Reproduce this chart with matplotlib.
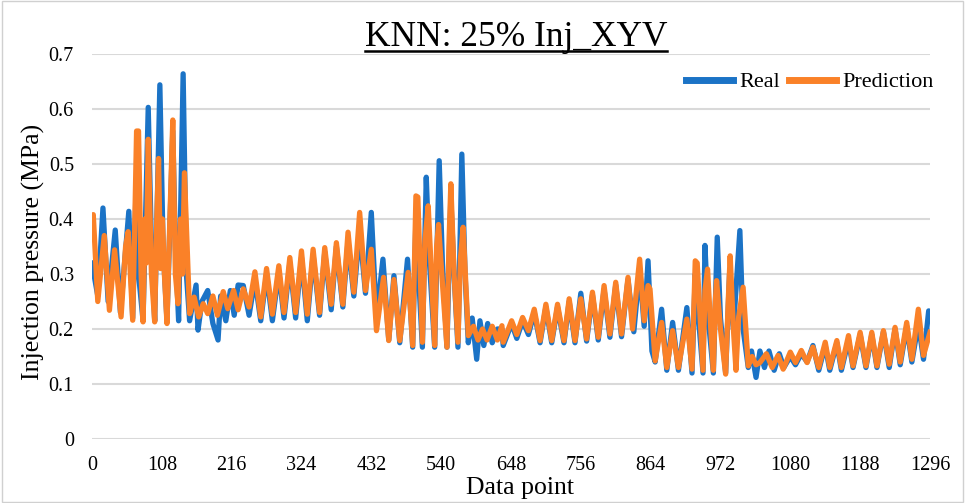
import numpy as np
import matplotlib
matplotlib.use("Agg")
import matplotlib.pyplot as plt
from matplotlib.lines import Line2D
from matplotlib.patches import Rectangle

plt.rcParams['font.family'] = ['Liberation Serif', 'DejaVu Serif']

# zigzag vertices (data point index, pressure MPa)
real_x = [0, 9, 17, 25, 36, 44, 57, 63, 68, 72, 79, 87, 92, 97, 105, 110, 116, 125, 129, 134,
          141, 146, 151, 161, 164, 170, 179, 187, 195, 199, 207, 214, 220, 226, 234, 243, 252, 261, 270, 279,
          289, 297, 306, 315, 324, 333, 342, 352, 360, 370, 378, 388, 396, 405, 414, 423, 432, 440, 450, 459,
          467, 476, 488, 496, 501, 505, 511, 517, 522, 530, 537, 542, 549, 555, 560, 566, 572, 577, 582, 588,
          595, 600, 606, 612, 619, 627, 634, 636, 649, 657, 666, 675, 684, 693, 702, 711, 720, 730, 738, 747,
          756, 765, 774, 783, 792, 801, 810, 819, 829, 838, 847, 854, 860, 866, 871, 881, 889, 898, 907, 920,
          928, 933, 938, 945, 948, 953, 961, 967, 972, 980, 986, 992, 1002, 1007, 1015, 1020, 1027, 1033, 1040, 1047,
          1055, 1063, 1070, 1080, 1088, 1097, 1106, 1115, 1124, 1134, 1141, 1152, 1159, 1170, 1177, 1188, 1197, 1206, 1214, 1224,
          1233, 1242, 1250, 1260, 1268, 1278, 1286, 1294, 1296]
real_y = [0.32, 0.26, 0.42, 0.25, 0.38, 0.23, 0.414, 0.22, 0.45, 0.30, 0.215, 0.603, 0.35, 0.215, 0.644, 0.35, 0.215, 0.56, 0.35, 0.215,
          0.664, 0.30, 0.215, 0.28, 0.198, 0.25, 0.27, 0.21, 0.18, 0.26, 0.215, 0.27, 0.225, 0.28, 0.279, 0.225, 0.29, 0.215, 0.30, 0.215,
          0.305, 0.22, 0.32, 0.22, 0.33, 0.215, 0.335, 0.225, 0.34, 0.235, 0.35, 0.24, 0.36, 0.26, 0.38, 0.265, 0.412, 0.22, 0.327, 0.18,
          0.297, 0.175, 0.327, 0.167, 0.40, 0.30, 0.167, 0.476, 0.32, 0.167, 0.506, 0.32, 0.167, 0.44, 0.30, 0.167, 0.518, 0.30, 0.175, 0.22,
          0.145, 0.215, 0.17, 0.21, 0.175, 0.20, 0.20, 0.17, 0.21, 0.183, 0.215, 0.19, 0.23, 0.175, 0.24, 0.175, 0.24, 0.175, 0.25, 0.175,
          0.265, 0.178, 0.262, 0.18, 0.272, 0.185, 0.28, 0.186, 0.29, 0.195, 0.31, 0.205, 0.324, 0.16, 0.14, 0.236, 0.125, 0.212, 0.125, 0.239,
          0.12, 0.30, 0.22, 0.12, 0.352, 0.22, 0.12, 0.367, 0.22, 0.12, 0.30, 0.20, 0.379, 0.20, 0.13, 0.16, 0.112, 0.16, 0.13, 0.16,
          0.125, 0.155, 0.13, 0.15, 0.135, 0.155, 0.14, 0.17, 0.125, 0.17, 0.125, 0.175, 0.125, 0.18, 0.13, 0.19, 0.13, 0.19, 0.13, 0.195,
          0.13, 0.20, 0.135, 0.205, 0.14, 0.21, 0.145, 0.233, 0.23]

pred_x = [0, 2, 9, 19, 27, 35, 45, 52, 56, 63, 66, 69, 72, 76, 79, 82, 84, 87, 92, 97,
          100, 103, 106, 109, 112, 116, 120, 125, 129, 133, 137, 140, 143, 151, 158, 165, 172, 179, 187, 194,
          203, 210, 219, 226, 234, 243, 252, 261, 270, 279, 289, 297, 306, 315, 324, 333, 342, 352, 360, 370,
          378, 388, 396, 405, 414, 423, 432, 440, 451, 459, 467, 476, 489, 496, 501, 504, 511, 515, 520, 525,
          530, 533, 536, 541, 549, 552, 555, 560, 566, 570, 574, 582, 590, 597, 604, 611, 619, 627, 634, 636,
          649, 657, 666, 675, 684, 693, 702, 711, 720, 730, 738, 747, 756, 765, 774, 783, 792, 801, 810, 819,
          829, 836, 847, 854, 860, 863, 871, 881, 889, 898, 907, 920, 928, 933, 936, 945, 948, 952, 957, 961,
          964, 966, 972, 980, 984, 987, 992, 996, 1000, 1007, 1015, 1021, 1027, 1033, 1043, 1052, 1061, 1069, 1080, 1088,
          1097, 1106, 1115, 1124, 1134, 1141, 1152, 1159, 1170, 1177, 1188, 1197, 1206, 1214, 1224, 1233, 1242, 1250, 1260, 1268,
          1278, 1286, 1296]
pred_y = [0.40, 0.408, 0.25, 0.37, 0.234, 0.344, 0.222, 0.35, 0.377, 0.216, 0.38, 0.56, 0.56, 0.30, 0.213, 0.40, 0.32, 0.545, 0.30, 0.213,
          0.39, 0.51, 0.31, 0.40, 0.30, 0.21, 0.38, 0.58, 0.30, 0.246, 0.40, 0.30, 0.484, 0.228, 0.258, 0.222, 0.246, 0.228, 0.26, 0.225,
          0.268, 0.237, 0.27, 0.235, 0.273, 0.24, 0.304, 0.222, 0.31, 0.227, 0.315, 0.23, 0.33, 0.23, 0.342, 0.227, 0.345, 0.23, 0.348, 0.245,
          0.357, 0.245, 0.376, 0.267, 0.412, 0.27, 0.345, 0.197, 0.294, 0.179, 0.29, 0.179, 0.303, 0.17, 0.442, 0.44, 0.176, 0.36, 0.424, 0.30,
          0.17, 0.35, 0.39, 0.30, 0.167, 0.35, 0.464, 0.30, 0.176, 0.33, 0.385, 0.188, 0.205, 0.18, 0.20, 0.18, 0.205, 0.18, 0.206, 0.176,
          0.215, 0.19, 0.221, 0.197, 0.236, 0.179, 0.245, 0.179, 0.245, 0.179, 0.255, 0.179, 0.255, 0.182, 0.267, 0.185, 0.279, 0.191, 0.285, 0.191,
          0.294, 0.20, 0.327, 0.215, 0.279, 0.273, 0.142, 0.212, 0.13, 0.197, 0.13, 0.218, 0.127, 0.324, 0.32, 0.125, 0.27, 0.309, 0.20, 0.125,
          0.25, 0.288, 0.20, 0.118, 0.25, 0.333, 0.20, 0.125, 0.22, 0.276, 0.133, 0.15, 0.135, 0.139, 0.155, 0.13, 0.152, 0.127, 0.158, 0.139,
          0.161, 0.139, 0.167, 0.13, 0.176, 0.13, 0.179, 0.13, 0.188, 0.133, 0.194, 0.133, 0.194, 0.133, 0.197, 0.136, 0.203, 0.14, 0.212, 0.145,
          0.236, 0.152, 0.194]

x_ticks = list(range(0, 1297, 108))
y_ticks = [0, 0.1, 0.2, 0.3, 0.4, 0.5, 0.6, 0.7]
y_tick_labels = ['0', '0.1', '0.2', '0.3', '0.4', '0.5', '0.6', '0.7']

blue = '#1B73C6'
orange = '#FA8128'

fig = plt.figure(figsize=(9.65, 5.03), dpi=100)
ax = fig.add_axes([0.0953, 0.1272, 0.8684, 0.7654])

ax.plot(real_x, real_y, color=blue, lw=3.8, solid_joinstyle='round', label='Real')
ax.plot(pred_x, pred_y, color=orange, lw=3.8, solid_joinstyle='round', label='Prediction')

ax.set_xlim(0, 1296)
ax.set_ylim(0, 0.7)
ax.set_xticks(x_ticks)
ax.set_yticks(y_ticks)
ax.set_yticklabels(y_tick_labels)
ax.tick_params(length=0, labelsize=14.5)
ax.tick_params(axis='x', pad=12)
ax.tick_params(axis='y', pad=13)
ax.grid(axis='y', color='#d9d9d9', lw=1.5)
ax.set_axisbelow(True)
for s in ax.spines.values():
    s.set_visible(False)

fig.text(520 / 965, 1 - 488 / 503, 'Data point', fontsize=18.5, ha='center', va='center')
fig.text(33 / 965, 1 - 252 / 503, 'Injection pressure (MPa)', fontsize=18.5,
         ha='center', va='center', rotation=90)

leg = ax.legend(loc='center right', bbox_to_anchor=(934 / 965, 1 - 82 / 503),
                bbox_transform=fig.transFigure, ncol=2, frameon=False, borderpad=0,
                borderaxespad=0, fontsize=16, handlelength=2.1, columnspacing=0.4,
                handletextpad=0.3)
for h in leg.get_lines():
    h.set_linewidth(5)

title = fig.text(516 / 965, 1 - 38 / 503, 'KNN: 25% Inj_XYV', fontsize=25.5, ha='center', va='center')

# underline the title
fig.canvas.draw()
bb = title.get_window_extent(fig.canvas.get_renderer()).transformed(fig.transFigure.inverted())
fig.add_artist(Line2D([bb.x0, bb.x1], [bb.y0 + 0.006, bb.y0 + 0.006], color='black', lw=1.8,
                      transform=fig.transFigure))

# chart area border
fig.add_artist(Rectangle((0.002, 0.002), 0.996, 0.996, transform=fig.transFigure,
                         fill=False, edgecolor='#d0d0d0', lw=1))

fig.savefig('out.png', dpi=100)
